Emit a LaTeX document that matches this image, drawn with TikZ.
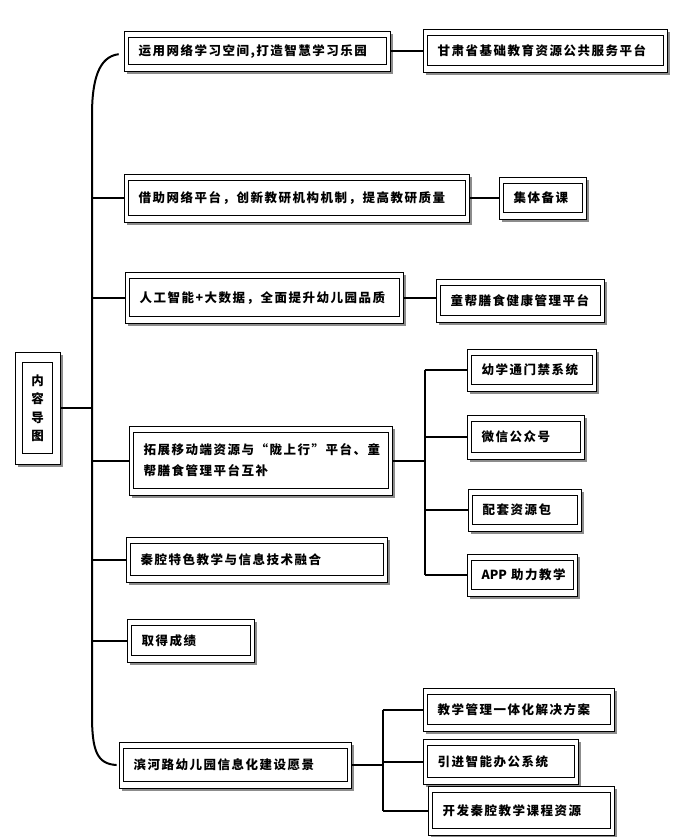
\documentclass[tikz,border=0pt]{standalone}
\usepackage{fontspec}
\newfontfamily\cjk[LetterSpace=12]{Noto Sans CJK SC}
\usetikzlibrary{positioning,calc,fit,shadows,backgrounds}

\begin{document}
\begin{tikzpicture}[x=1pt, y=-1pt,
    font=\fontsize{12.5pt}{21pt}\selectfont\cjk\bfseries,
    cbox/.style={rectangle, draw=black, line width=1.2pt, fill=white, anchor=north west,
      align=left, inner xsep=10pt, inner ysep=0pt},
    rootbox/.style={cbox, align=center, inner xsep=1pt, minimum width=30pt, minimum height=91pt,
      font=\fontsize{12.5pt}{18.5pt}\selectfont\cjk\bfseries},
    frame/.style={rectangle, draw=black, line width=0.7pt, fill=white, inner sep=0pt,
      drop shadow={shadow xshift=3pt, shadow yshift=-3pt, fill=black!45, opacity=1}},
    link/.style={line width=2pt, draw=black},
    trunk/.style={line width=2pt, draw=black}
  ]
  \useasboundingbox (0,0) rectangle (682,837);

  % root
  \node[rootbox] (root) at (22,362) {内\\容\\导\\图};

  % first level
  \node[cbox, text width=238pt, minimum height=27pt] (a) at (128,37) {运用网络学习空间,打造智慧学习乐园};
  \node[cbox, text width=317pt, minimum height=35pt] (b) at (128,180) {借助网络平台，创新教研机构机制，提高教研质量};
  \node[cbox, text width=250pt, minimum height=38pt] (c) at (129,278) {人工智能+大数据，全面提升幼儿园品质};
  \node[cbox, text width=235pt, minimum height=56pt] (d) at (133,432)
    {拓展移动端资源与“陇上行”平台、童\\帮膳食管理平台互补};
  \node[cbox, text width=233pt, minimum height=32pt] (e) at (130,543) {秦腔特色教学与信息技术融合};
  \node[cbox, text width=99pt, minimum height=30pt] (f) at (131,625) {取得成绩};
  \node[cbox, text width=204pt, minimum height=33pt] (g) at (123,748) {滨河路幼儿园信息化建设愿景};

  % second level
  \node[cbox, text width=216pt, minimum height=30pt] (a1) at (427,35) {甘肃省基础教育资源公共服务平台};
  \node[cbox, text width=59pt, minimum height=29pt] (b1) at (503,183) {集体备课};
  \node[cbox, text width=140pt, minimum height=30pt] (c1) at (440,285) {童帮膳食健康管理平台};
  \node[cbox, text width=101pt, minimum height=29pt] (d1) at (471,355) {幼学通门禁系统};
  \node[cbox, text width=89pt, minimum height=31pt] (d2) at (471,421) {微信公众号};
  \node[cbox, text width=85pt, minimum height=29pt] (d3) at (472,495) {配套资源包};
  \node[cbox, text width=82pt, minimum height=29pt] (d4) at (471,560) {\mbox{{\addfontfeature{LetterSpace=0}APP}~助力教学}};
  \node[cbox, text width=163pt, minimum height=30pt] (g1) at (427,694) {教学管理一体化解决方案};
  \node[cbox, text width=127pt, minimum height=32pt] (g2) at (427,745) {引进智能办公系统};
  \node[cbox, text width=158pt, minimum height=36pt] (g3) at (432,792) {开发秦腔教学课程资源};

  % outer frames with shadow
  \begin{pgfonlayer}{background}
    \foreach \n in {a,a1,b,b1,c,c1,d,d1,d2,d3,d4,e,f,g,g1,g2,g3}
      \node[frame, fit={($(\n.north west)+(-4,-6)$) ($(\n.south east)+(3,6)$)}] (\n-f) {};
    \node[frame, fit={($(root.north west)+(-7,-10)$) ($(root.south east)+(7,10)$)}] (root-f) {};
  \end{pgfonlayer}

  % trunk
  \coordinate (tt) at (92,115);
  \coordinate (tb) at (92,715);
  \draw[trunk, shorten <=5pt, shorten >=2pt] ([yshift=-2.5pt]a-f.west) .. controls +(-25,3) and +(0,-35) .. (tt)
    -- (tb) .. controls +(0,35) and +(-22,-1) .. (g-f.west);
  \draw[link] (root-f.east) -- (tt |- root-f.east);
  \foreach \n in {b,c,d,e,f}
    \draw[link] (tt |- \n-f.west) -- (\n-f.west);

  \draw[link] (a-f.east) -- (a-f.east -| a1-f.west);
  \draw[link] (b-f.east) -- (b-f.east -| b1-f.west);
  \draw[link] (c-f.east) -- (c-f.east -| c1-f.west);

  % bus to d children
  \coordinate (dj) at ($(d-f.east)+(32,0)$);
  \draw[link] (d-f.east) -- (dj);
  \draw[link] (dj |- d1-f.west) -- (dj |- d4-f.west);
  \foreach \n in {d1,d2,d3,d4}
    \draw[link] (dj |- \n-f.west) -- (\n-f.west);

  % bus to g children
  \coordinate (gj) at ($(g-f.east)+(31,0)$);
  \draw[link] (g-f.east) -- (gj);
  \draw[link] (gj |- g1-f.west) -- (gj |- g3-f.west);
  \foreach \n in {g1,g2,g3}
    \draw[link] (gj |- \n-f.west) -- (\n-f.west);
\end{tikzpicture}
\end{document}
